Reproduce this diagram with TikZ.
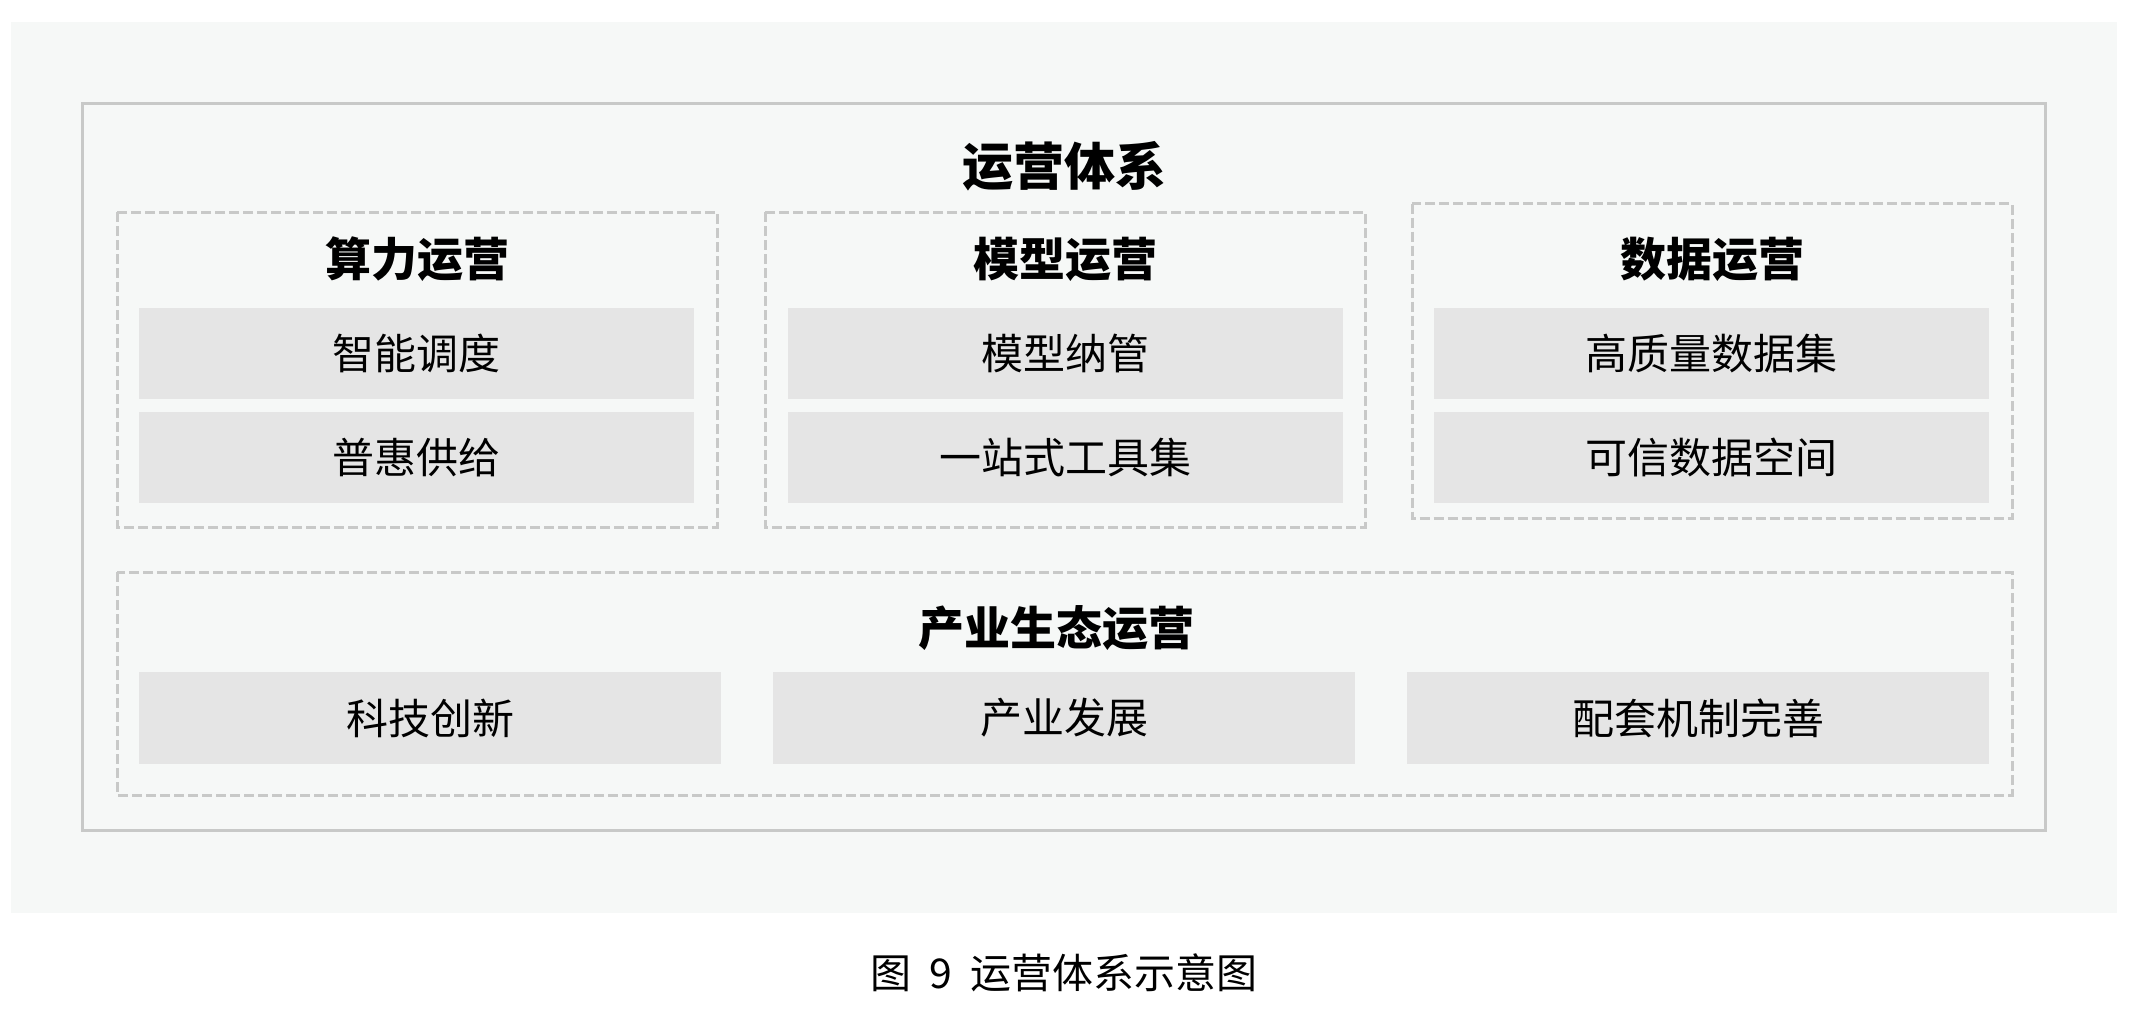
\documentclass[tikz,border=0pt]{standalone}
\usepackage{fontspec}
\setmainfont{Noto Sans CJK SC}
\definecolor{pagebg}{HTML}{F6F8F7}
\definecolor{framegray}{HTML}{C8C9C8}
\definecolor{itemgray}{HTML}{E5E5E5}
\begin{document}
\begin{tikzpicture}[x=0.5pt,y=-0.5pt,
  item/.style={fill=itemgray,inner sep=0pt,minimum width=277.5pt,minimum height=45.5pt,font=\fontsize{21}{25}\selectfont},
  wide/.style={item,minimum width=291pt,minimum height=46pt},
  group/.style={draw=framegray,line width=1.5pt,dash pattern=on 5pt off 2pt},
  head/.style={font=\fontsize{23}{28}\selectfont\bfseries}]
  \useasboundingbox (0,0) rectangle (2147,1017);
  \fill[pagebg] (11,22) rectangle (2117,913);
  \draw[framegray,line width=1.5pt] (82.5,103.5) rectangle (2045.5,830.5);
  \node[font=\fontsize{25.5}{30}\selectfont\bfseries] (tixi) at (1064,166) {运营体系};
  % three columns
  \draw[group] (117,212) rectangle (717,527);
  \node[head] (suanli) at (417,259) {算力运营};
  \node[item] (diaodu) at (416.5,353.5) {智能调度};
  \node[item] (gongji) at (416.5,457.5) {普惠供给};
  \draw[group] (765,212) rectangle (1365,527);
  \node[head] (moxing) at (1065,259) {模型运营};
  \node[item] (naguan) at (1065,353.5) {模型纳管};
  \node[item] (gongju) at (1065,457.5) {一站式工具集};
  \draw[group] (1412,203.5) rectangle (2012,518);
  \node[head] (shuju) at (1712,259) {数据运营};
  \node[item] (shujuji) at (1711.5,353.5) {高质量数据集};
  \node[item] (kongjian) at (1711.5,457.5) {可信数据空间};
  % bottom row
  \draw[group] (117,572) rectangle (2012,795);
  \node[head] (shengtai) at (1056,628) {产业生态运营};
  \node[wide] (chuangxin) at (430,718) {科技创新};
  \node[wide] (fazhan) at (1064,718) {产业发展};
  \node[wide] (jizhi) at (1698,718) {配套机制完善};
  \node[font=\fontsize{20.5}{25}\selectfont] (caption) at (1064,973) {图\hspace{0.45em}9\hspace{0.45em}运营体系示意图};
\end{tikzpicture}
\end{document}
